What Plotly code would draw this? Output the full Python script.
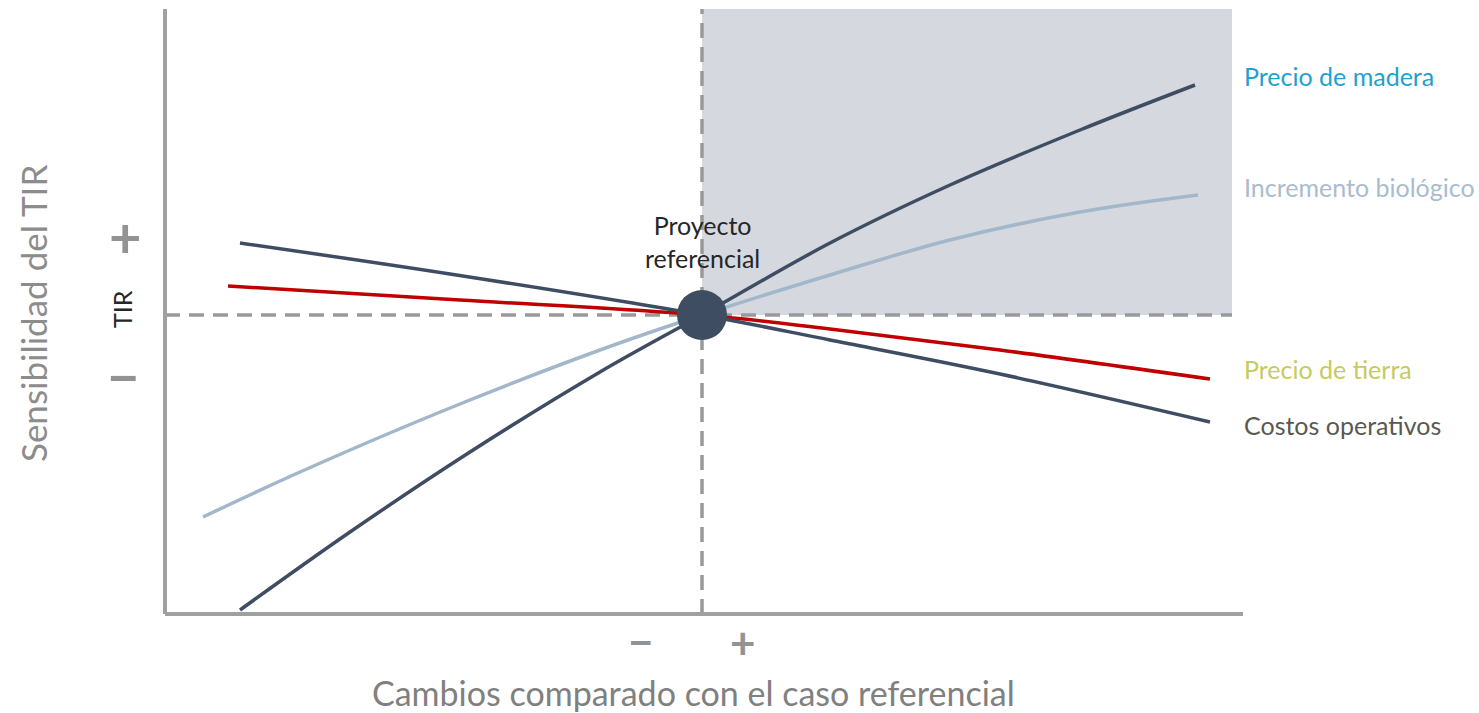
import plotly.graph_objects as go

# ---- data (abstract units: 0,0 = proyecto referencial) ----
madera_x = [-4.62, -3.52, -2.32, -1.02, 0.0, 1.28, 2.48, 3.78, 4.93]
madera_y = [-2.95, -2.17, -1.37, -0.57, 0.0, 0.72, 1.30, 1.85, 2.30]

bio_x = [-4.99, -4.02, -2.52, -1.02, 0.0, 1.28, 2.48, 3.78, 4.96]
bio_y = [-2.02, -1.57, -0.93, -0.35, 0.0, 0.40, 0.75, 1.03, 1.20]

tierra_x = [-4.74, -2.42, 0.0, 1.28, 2.98, 5.08]
tierra_y = [0.29, 0.15, 0.0, -0.14, -0.35, -0.64]

costos_x = [-4.62, -2.52, 0.0, 1.28, 2.98, 5.08]
costos_y = [0.72, 0.41, 0.0, -0.25, -0.59, -1.07]

ref_x = [0.0]
ref_y = [0.0]

labels = ["Precio de madera", "Incremento biológico", "Precio de tierra", "Costos operativos"]
label_y = [2.39, 1.28, -0.54, -1.10]
label_colors = ["#1ea1d2", "#a9bccf", "#c5cb5e", "#595a4f"]

# ---- layout constants ----
X_RANGE = [-7.02, 7.77]
Y_RANGE = [-3.98, 3.15]
AX_LEFT, AX_RIGHT = -5.37, 5.41
AX_TOP, AX_BOTTOM = 3.06, -2.99
SHADE_RIGHT = 5.30
LABEL_X = 5.40

DARK = "#3f4d63"
LIGHT = "#a3b7ca"
RED = "#c00000"
GRAY = "#a0a0a0"
SIGN = "#939393"
FONT = "Lato"

fig = go.Figure()

line_specs = [
    (madera_x, madera_y, DARK),
    (bio_x, bio_y, LIGHT),
    (tierra_x, tierra_y, RED),
    (costos_x, costos_y, DARK),
]
for xs, ys, col in line_specs:
    fig.add_trace(go.Scatter(x=xs, y=ys, mode="lines",
                             line=dict(color=col, width=3.5, shape="spline", smoothing=1.0),
                             hoverinfo="skip", showlegend=False))

fig.add_trace(go.Scatter(x=ref_x, y=ref_y, mode="markers",
                         marker=dict(size=50, color=DARK), hoverinfo="skip", showlegend=False))

shapes = [
    dict(type="rect", x0=0, x1=SHADE_RIGHT, y0=0, y1=AX_TOP, fillcolor="#d5d9df",
         line=dict(width=0), layer="below"),
    dict(type="line", x0=AX_LEFT, x1=SHADE_RIGHT, y0=0, y1=0,
         line=dict(color="#999999", width=3.5, dash="15px,9px"), layer="below"),
    dict(type="line", x0=0, x1=0, y0=AX_BOTTOM, y1=AX_TOP,
         line=dict(color="#999999", width=3.5, dash="15px,9px"), layer="below"),
    dict(type="line", x0=AX_LEFT, x1=AX_LEFT, y0=AX_BOTTOM, y1=AX_TOP,
         line=dict(color=GRAY, width=4)),
    dict(type="line", x0=AX_LEFT, x1=AX_RIGHT, y0=AX_BOTTOM, y1=AX_BOTTOM,
         line=dict(color=GRAY, width=4)),
]

annotations = []
for lab, ly, lc in zip(labels, label_y, label_colors):
    annotations.append(dict(x=LABEL_X, y=ly, text=lab, showarrow=False, xanchor="left",
                            yanchor="middle", font=dict(family=FONT, size=25, color=lc)))

annotations += [
    dict(x=0, y=0.74, text="Proyecto<br>referencial", showarrow=False,
         font=dict(family=FONT, size=25, color="#262626"), xanchor="center", yanchor="middle"),
    dict(x=-6.69, y=0.01, text="Sensibilidad del TIR", showarrow=False, textangle=-90,
         font=dict(family=FONT, size=35, color="#8c8c8c"), xanchor="center", yanchor="middle"),
    dict(x=-5.80, y=0.06, text="TIR", showarrow=False, textangle=-90,
         font=dict(family=FONT, size=25, color="#262626"), xanchor="center", yanchor="middle"),
    dict(x=-5.77, y=0.79, text="<b>+</b>", showarrow=False,
         font=dict(family=FONT, size=56, color=SIGN), xanchor="center", yanchor="middle"),
    dict(x=-5.79, y=-0.60, text="<b>−</b>", showarrow=False,
         font=dict(family=FONT, size=56, color=SIGN), xanchor="center", yanchor="middle"),
    dict(x=-0.61, y=-3.26, text="<b>−</b>", showarrow=False,
         font=dict(family=FONT, size=44, color=SIGN), xanchor="center", yanchor="middle"),
    dict(x=0.41, y=-3.27, text="<b>+</b>", showarrow=False,
         font=dict(family=FONT, size=44, color=SIGN), xanchor="center", yanchor="middle"),
    dict(x=-0.09, y=-3.77, text="Cambios comparado con el caso referencial", showarrow=False,
         font=dict(family=FONT, size=34, color="#808080"), xanchor="center", yanchor="middle"),
]

fig.update_layout(
    width=1479, height=713,
    margin=dict(l=0, r=0, t=0, b=0),
    paper_bgcolor="white", plot_bgcolor="white",
    xaxis=dict(range=X_RANGE, visible=False, fixedrange=True),
    yaxis=dict(range=Y_RANGE, visible=False, fixedrange=True),
    shapes=shapes, annotations=annotations, showlegend=False,
)

fig.write_html("out.html", config={"displayModeBar": False},
               post_script="document.body.style.margin='0';")
